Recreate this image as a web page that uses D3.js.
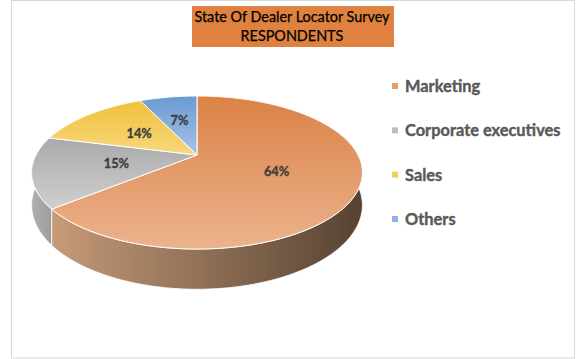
<!DOCTYPE html>
<html><head><meta charset="utf-8">
<script src="https://cdn.jsdelivr.net/npm/d3@7"></script>
<style>html,body{margin:0;padding:0;background:#fff;}svg{display:block;}</style>
</head><body>
<svg id="c" width="576" height="359"></svg>
<script>
const categories = ["Marketing", "Corporate executives", "Sales", "Others"];
const values = [64, 15, 14, 7];
const labels = ["64%", "15%", "14%", "7%"];
const titleLines = ["State Of Dealer Locator Survey", "RESPONDENTS"];

const topTop = ["#dc8246", "#a9a9a9", "#f1c03c", "#6b9ad2"];
const topBot = ["#ebb38d", "#d0d0d0", "#f7d87c", "#a8c3e7"];
const sideL = ["#c69b79", "#b0b0b0", "#d9ab36", "#6a90c0"];
const sideR = ["#564232", "#9c9c9c", "#8a6d20", "#3e5a80"];
const legendCol = ["#e89d6a", "#bdbdbd", "#f5cf5c", "#8cb2e0"];

const svg = d3.select("#c");
const defs = svg.append("defs");
const FF = "Lato, 'Open Sans', sans-serif";

// border
svg.append("rect").attr("x", 11.5).attr("y", 0.5).attr("width", 563).attr("height", 357.5)
  .attr("fill", "#fff").attr("stroke", "#d9d9d9").attr("stroke-width", 1);

// title
svg.append("rect").attr("x", 192).attr("y", 6).attr("width", 202).attr("height", 41).attr("fill", "#e0823f");
titleLines.forEach((t, i) => {
  svg.append("text").attr("x", 292).attr("y", 22 + i * 19).attr("text-anchor", "middle")
    .attr("font-family", FF).attr("font-size", 14.4).attr("fill", "#000")
    .attr("stroke", "#000").attr("stroke-width", 0.25)
    .text(t);
});

// projection
const cx = 197, cy = 155, Rx = 161, Ry = 72.5, K = 0.229, D = 31;
function proj(a, r, drop) {
  const u = r * Math.sin(a), v = -r * Math.cos(a);
  const w = 1 - K * v;
  return [cx + Rx * u / w, cy + (Ry * v + drop) / w];
}
function arcPts(a0, a1, r, drop) {
  const n = Math.max(4, Math.ceil((a1 - a0) / 0.02));
  const pts = [];
  for (let i = 0; i <= n; i++) pts.push(proj(a0 + (a1 - a0) * i / n, r, drop));
  return pts;
}
const line = d3.line();

const pie = d3.pie().sort(null).value(d => d)(values);

// gradients
pie.forEach((p, i) => {
  const g = defs.append("linearGradient").attr("id", "gt" + i).attr("x1", 0).attr("y1", 0).attr("x2", 0).attr("y2", 1);
  g.append("stop").attr("offset", "0%").attr("stop-color", topTop[i]);
  g.append("stop").attr("offset", "100%").attr("stop-color", topBot[i]);
  const s = defs.append("linearGradient").attr("id", "gs" + i).attr("x1", 0).attr("y1", 0).attr("x2", 1).attr("y2", 0);
  s.append("stop").attr("offset", "0%").attr("stop-color", sideL[i]);
  s.append("stop").attr("offset", "100%").attr("stop-color", sideR[i]);
});

// walls: back first
const order = pie.map((p, i) => i).sort((a, b) => {
  const m = p => -Math.cos((p.startAngle + p.endAngle) / 2);
  return m(pie[a]) - m(pie[b]);
});
const gWalls = svg.append("g");
order.forEach(i => {
  const p = pie[i];
  const top = arcPts(p.startAngle, p.endAngle, 1, 0);
  const bot = arcPts(p.startAngle, p.endAngle, 1, D).reverse();
  gWalls.append("path").attr("d", line(top.concat(bot)) + "Z")
    .attr("fill", "url(#gs" + i + ")").attr("stroke", "#fff").attr("stroke-width", 0.8)
    .attr("stroke-linejoin", "round");
});

// top faces
const gTop = svg.append("g");
pie.forEach((p, i) => {
  const pts = [proj(0, 0, 0)].concat(arcPts(p.startAngle, p.endAngle, 1, 0));
  gTop.append("path").attr("d", line(pts) + "Z")
    .attr("fill", "url(#gt" + i + ")").attr("stroke", "#fff").attr("stroke-width", 1)
    .attr("stroke-linejoin", "round");
});

// data labels
pie.forEach((p, i) => {
  const a = (p.startAngle + p.endAngle) / 2;
  const pt = proj(a, i === 3 ? 0.56 : 0.5, 0);
  svg.append("text").attr("x", pt[0] + (i === 0 ? 3 : 0)).attr("y", pt[1] + 5).attr("text-anchor", "middle")
    .attr("font-family", FF).attr("font-weight", "bold")
    .attr("font-size", 12.8).attr("fill", "#3f3f3f")
    .attr("stroke", "#3f3f3f").attr("stroke-width", 0.35).text(labels[i]);
});

// legend
const ly = d3.scalePoint().domain(categories).range([86, 219]);
categories.forEach((c, i) => {
  const y = ly(c);
  svg.append("rect").attr("x", 392).attr("y", y - 3).attr("width", 6).attr("height", 6).attr("fill", legendCol[i]);
  svg.append("text").attr("x", 405).attr("y", y + 6)
    .attr("font-family", FF).attr("font-weight", "bold")
    .attr("font-size", 16.4).attr("fill", "#595959")
    .attr("stroke", "#595959").attr("stroke-width", 0.4).text(c);
});
</script>
</body></html>
